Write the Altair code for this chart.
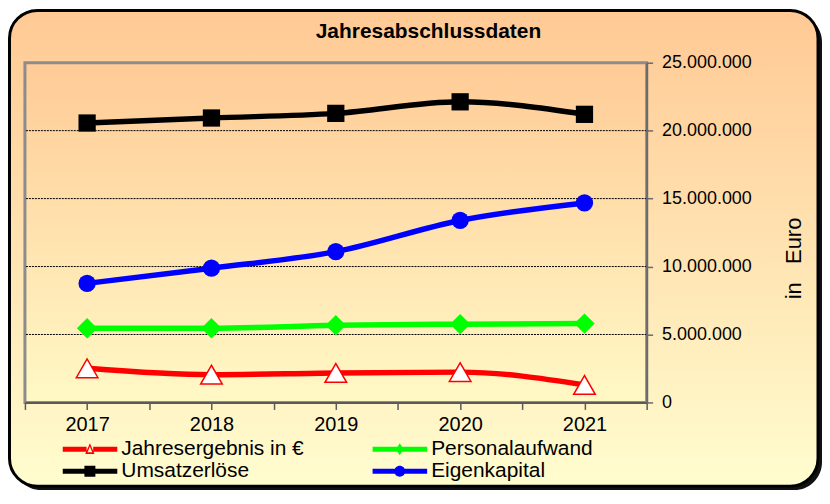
import altair as alt
import pandas as pd

# ---------------- data ----------------
years = [2017, 2018, 2019, 2020, 2021]
series_names = ["Jahresergebnis in €", "Personalaufwand", "Umsatzerlöse", "Eigenkapital"]
jahresergebnis = [2510000, 2040000, 2170000, 2230000, 1290000]
personalaufwand = [5460000, 5460000, 5680000, 5760000, 5800000]
umsatzerloese = [20560000, 20930000, 21270000, 22120000, 21200000]
eigenkapital = [8760000, 9880000, 11100000, 13390000, 14680000]
series_colors = ["#FF0000", "#00FF00", "#000000", "#0000FF"]
# legend order (filled column by column in a 2-column legend)
legend_order = ["Jahresergebnis in €", "Umsatzerlöse", "Personalaufwand", "Eigenkapital"]
y_ticks = [0, 5000000, 10000000, 15000000, 20000000, 25000000]
grid_values = [5000000, 10000000, 15000000, 20000000]
x_ticks = [2016.5, 2017, 2017.5, 2018, 2018.5, 2019, 2019.5, 2020, 2020.5, 2021, 2021.5]
chart_title = "Jahresabschlussdaten"
y_title = "in\u00a0\u00a0\u00a0Euro"

rows = []
for name, vals in zip(series_names, [jahresergebnis, personalaufwand, umsatzerloese, eigenkapital]):
    for yr, v in zip(years, vals):
        rows.append({"Jahr": yr, "Reihe": name, "Wert": v})
df = pd.DataFrame(rows)
grid_df = pd.DataFrame({"Wert": grid_values})
one = pd.DataFrame({"k": [0]})

FONT = "Liberation Sans"
W, H = 624, 341

# marker style per series (Vega shape, size); the first one is drawn hollow (white fill)
marker_shapes = ["triangle-up", "diamond", "square", "circle"]
marker_sizes = [470, 420, 300, 300]

# legend symbol paths (line + marker), unit box scaled by symbolSize
legend_path_by_name = {
    "Jahresergebnis in €": "M-1,-0.09L-0.12,-0.09L-0.12,0.09L-1,0.09Z M0.12,-0.09L1,-0.09L1,0.09L0.12,0.09Z "
                           "M0,-0.22L0.17,0.17L-0.17,0.17Z M0,-0.1L-0.085,0.11L0.085,0.11Z",
    "Personalaufwand": "M-1,-0.09L1,-0.09L1,0.09L-1,0.09Z M0,-0.22L0.14,0L0,0.22L-0.14,0Z",
    "Umsatzerlöse": "M-1,-0.09L1,-0.09L1,0.09L-1,0.09Z M-0.2,-0.2L0.2,-0.2L0.2,0.2L-0.2,0.2Z",
    "Eigenkapital": "M-1,-0.09L1,-0.09L1,0.09L-1,0.09Z M0.2,0A0.2,0.2 0 1,1 -0.2,0A0.2,0.2 0 1,1 0.2,0Z",
}
color_by_name = dict(zip(series_names, series_colors))

legend_color_scale = alt.Scale(domain=legend_order, range=[color_by_name[n] for n in legend_order])
legend_shape_scale = alt.Scale(domain=legend_order, range=[legend_path_by_name[n] for n in legend_order])
x_scale = alt.Scale(domain=[2016.5, 2021.5], nice=False, zero=False)
y_scale = alt.Scale(domain=[0, 25000000], nice=False)

grad_frame = alt.LinearGradient(
    gradient="linear", x1=0, x2=0, y1=0, y2=1,
    stops=[alt.GradientStop(color="#FFC994", offset=0),
           alt.GradientStop(color="#FFFDCF", offset=1)])
grad_plot = alt.LinearGradient(
    gradient="linear", x1=0, x2=0, y1=0, y2=1,
    stops=[alt.GradientStop(color="#FFCB96", offset=0),
           alt.GradientStop(color="#FFF9C6", offset=1)])

shadow = alt.Chart(one).mark_rect(fill="#111111", cornerRadius=28).encode(
    x=alt.value(-11.5), x2=alt.value(800), y=alt.value(-48.5), y2=alt.value(429))
frame = alt.Chart(one).mark_rect(fill=grad_frame, stroke="#000000", strokeWidth=3, cornerRadius=28).encode(
    x=alt.value(-15.5), x2=alt.value(796), y=alt.value(-52.5), y2=alt.value(425))
plotbg = alt.Chart(one).mark_rect(fill=grad_plot, stroke="#8C8C8C", strokeWidth=3).encode(
    x=alt.value(0), x2=alt.value(W), y=alt.value(0), y2=alt.value(H))
title_text = alt.Chart(one).mark_text(font=FONT, fontSize=21, fontWeight="bold", color="#000000",
                                      align="center", baseline="middle").encode(
    x=alt.value(405), y=alt.value(-31), text=alt.value(chart_title))

x_enc = alt.X("Jahr:Q", scale=x_scale, axis=alt.Axis(
    values=x_ticks, labelExpr="datum.value % 1 === 0 ? '' + datum.value : ''",
    title=None, grid=False, domainColor="#5A5A5A", domainWidth=2, tickColor="#5A5A5A",
    tickWidth=1.5, tickSize=7, labelFont=FONT, labelFontSize=20, labelColor="#000000",
    labelPadding=5, labelFlush=False, labelOverlap=False, zindex=1))
y_enc = alt.Y("Wert:Q", scale=y_scale, axis=alt.Axis(
    orient="right", values=y_ticks,
    labelExpr="replace(format(datum.value, ','), regexp(',', 'g'), '.')",
    grid=False, domainColor="#6A6A6A", domainWidth=2, tickColor="#6A6A6A", tickWidth=1.5,
    tickSize=6, labelFont=FONT, labelFontSize=18, labelColor="#000000", labelPadding=9,
    labelFlush=False, title=y_title, titleFont=FONT, titleFontSize=22,
    titleFontWeight="normal", titleColor="#000000", titleAngle=270, titleX=147, titleY=196,
    titleAlign="center", titleBaseline="middle", zindex=1))

grid = alt.Chart(grid_df).mark_rule(color="#000000", strokeWidth=1, strokeDash=[2, 1]).encode(
    y=y_enc)

base = alt.Chart(df)
line_layers = []
point_layers = []
for i, (name, col) in enumerate(zip(series_names, series_colors)):
    sub = base.transform_filter(alt.datum.Reihe == name)
    line_layers.append(sub.mark_line(strokeWidth=5.5, interpolate="monotone", color=col).encode(
        x=x_enc, y=y_enc))
    if i == 0:
        pt = sub.mark_point(shape=marker_shapes[i], filled=True, fill="#FFFFFF", stroke=col,
                            strokeWidth=1.5, size=marker_sizes[i], opacity=1)
    else:
        pt = sub.mark_point(shape=marker_shapes[i], filled=True, fill=col, strokeWidth=0,
                            size=marker_sizes[i], opacity=1)
    point_layers.append(pt.encode(x=x_enc, y=y_enc))

legend_def = alt.Legend(
    orient="none", legendX=37.7, legendY=378, columns=2, columnPadding=68,
    rowPadding=1, clipHeight=20, symbolSize=3025, labelOffset=4,
    labelFont=FONT, labelFontSize=21, labelColor="#000000", labelLimit=400,
    title=None, padding=0, symbolStrokeWidth=0, symbolOpacity=1, zindex=1)
legend_layer = base.transform_filter("false").mark_point(filled=True, opacity=1).encode(
    x=x_enc, y=y_enc,
    color=alt.Color("Reihe:N", scale=legend_color_scale, legend=legend_def),
    shape=alt.Shape("Reihe:N", scale=legend_shape_scale, legend=legend_def))

chart = alt.layer(shadow, frame, plotbg, title_text, grid, *line_layers, *point_layers,
                  legend_layer).properties(
    width=W, height=H, padding=0, background="#FFFFFF",
).configure_view(stroke=None)

chart.save("out.html", embed_options={"renderer": "svg", "actions": False})
